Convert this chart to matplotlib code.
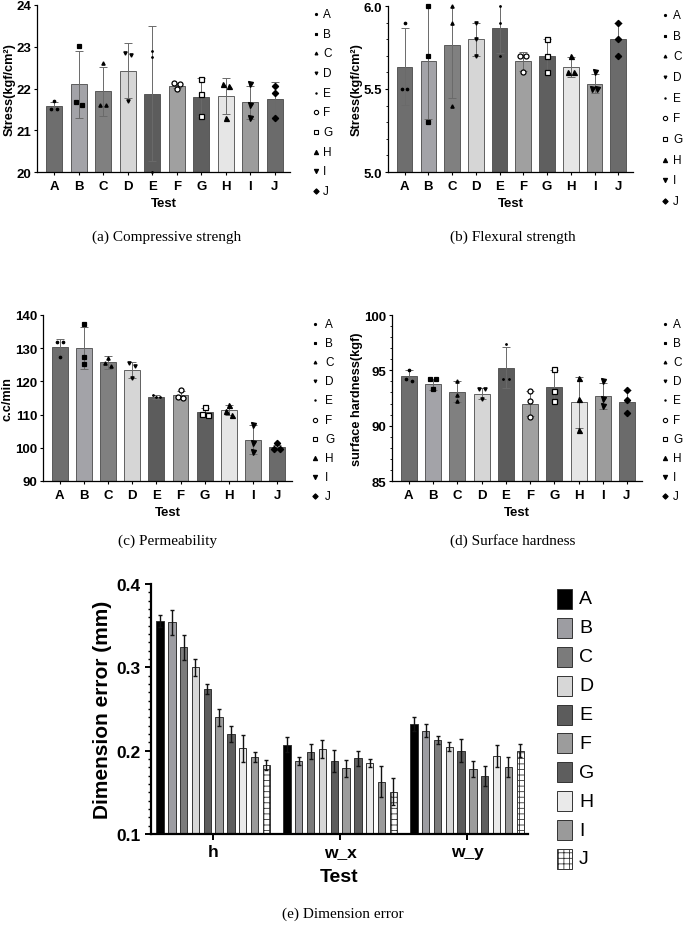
import matplotlib
matplotlib.use("Agg")
import matplotlib.pyplot as plt
import numpy as np
from matplotlib.ticker import MultipleLocator, FormatStrFormatter
from matplotlib.lines import Line2D
from matplotlib.patches import Rectangle

plt.rcParams['font.family'] = ['Liberation Sans', 'DejaVu Sans']
plt.rcParams['hatch.color'] = '#444444'
plt.rcParams['hatch.linewidth'] = 0.6

# ---------------- data ----------------
tests = ['A', 'B', 'C', 'D', 'E', 'F', 'G', 'H', 'I', 'J']

comp_mean = [21.57, 22.10, 21.93, 22.43, 21.88, 22.07, 21.80, 21.82, 21.67, 21.75]
comp_err = [0.10, 0.80, 0.58, 0.66, 1.62, 0.06, 0.45, 0.43, 0.40, 0.40]
comp_pts = [[21.70, 21.50, 21.50], [23.02, 21.68, 21.60], [22.60, 21.60, 21.60],
            [22.85, 22.80, 21.70], [22.90, 22.75, 20.00], [22.13, 22.10, 21.98],
            [22.22, 21.88, 21.33], [22.10, 22.05, 21.30], [22.10, 21.60, 21.30],
            [22.05, 21.90, 21.30]]

flex_mean = [5.635, 5.667, 5.767, 5.80, 5.867, 5.667, 5.70, 5.633, 5.533, 5.80]
flex_err = [0.23, 0.35, 0.32, 0.10, 0.15, 0.058, 0.10, 0.058, 0.058, 0.10]
flex_pts = [[5.9, 5.5, 5.5], [6.0, 5.7, 5.3], [6.0, 5.9, 5.4], [5.9, 5.8, 5.7],
            [6.0, 5.9, 5.7], [5.7, 5.7, 5.6], [5.8, 5.7, 5.6], [5.7, 5.6, 5.6],
            [5.6, 5.5, 5.5], [5.9, 5.8, 5.7]]

perm_mean = [130.3, 130.1, 125.7, 123.4, 115.4, 115.8, 110.8, 111.4, 102.4, 100.1]
perm_err = [2.4, 6.3, 2.1, 2.3, 0.6, 1.2, 1.2, 1.5, 4.4, 0.7]
perm_pts = [[132.0, 132.0, 127.5], [137.3, 127.5, 125.3], [127.0, 125.5, 124.5],
            [125.5, 124.5, 121.0], [115.8, 115.3, 115.2], [117.3, 115.2, 115.0],
            [112.3, 110.2, 110.0], [113.0, 111.2, 110.0], [107.0, 101.5, 98.8],
            [101.3, 99.5, 99.5]]

hard_mean = [94.5, 93.75, 93.05, 92.9, 95.25, 92.0, 93.5, 92.1, 92.7, 92.15]
hard_err = [0.5, 0.5, 0.95, 0.5, 1.85, 1.1, 1.5, 2.3, 1.15, 1.05]
hard_pts = [[95.0, 94.2, 94.0], [94.2, 94.2, 93.3], [94.0, 92.8, 92.2],
            [93.3, 93.3, 92.4], [97.4, 94.2, 94.2], [93.1, 92.2, 90.8],
            [95.1, 93.1, 92.2], [94.3, 92.4, 89.6], [94.0, 92.4, 91.8],
            [93.2, 92.3, 91.1]]

dim_groups = ['h', 'w_x', 'w_y']
dim_h = [0.356, 0.354, 0.324, 0.300, 0.274, 0.240, 0.220, 0.203, 0.193, 0.183]
dim_h_err = [0.007, 0.015, 0.015, 0.010, 0.006, 0.010, 0.010, 0.016, 0.006, 0.006]
dim_wx = [0.207, 0.188, 0.199, 0.202, 0.188, 0.179, 0.191, 0.185, 0.163, 0.151]
dim_wx_err = [0.009, 0.005, 0.009, 0.011, 0.013, 0.010, 0.009, 0.005, 0.019, 0.016]
dim_wy = [0.232, 0.224, 0.213, 0.205, 0.200, 0.178, 0.170, 0.194, 0.181, 0.200]
dim_wy_err = [0.008, 0.008, 0.005, 0.005, 0.014, 0.010, 0.012, 0.013, 0.012, 0.008]

# ---------------- styles ----------------
bar_cols = ['#6e6e6e', '#a3a3a8', '#808080', '#d6d6d6', '#5c5c5c',
            '#a0a0a0', '#5f5f5f', '#e6e6e6', '#9c9c9c', '#6b6b6b']
dim_cols = ['#000000', '#9d9da2', '#7b7b7b', '#d7d7d7', '#5c5c5c',
            '#9c9c9c', '#5e5e5e', '#eaeaea', '#9a9a9a', '#ffffff']
markers = ['.', 's', '^', 'v', '.', 'o', 's', '^', 'v', 'D']
msizes = [3.5, 2.2, 2.4, 2.4, 2.2, 3.6, 3.6, 3.6, 3.6, 3.2]
mfill = [True, True, True, True, True, False, False, True, True, True]

W, H = 685, 929
fig = plt.figure(figsize=(W / 100, H / 100), dpi=100)


def px_ax(l, t, r, b):
    return fig.add_axes([l / W, 1 - b / H, (r - l) / W, (b - t) / H])


def fx(x):
    return x / W


def fy(y):
    return 1 - y / H


def offsets(vals, span):
    vals = np.asarray(vals)
    off = np.zeros(len(vals))
    thr = span * 0.025
    used = [False] * len(vals)
    for i in range(len(vals)):
        if used[i]:
            continue
        grp = [j for j in range(len(vals)) if not used[j] and abs(vals[j] - vals[i]) < thr]
        for j in grp:
            used[j] = True
        n = len(grp)
        if n == 2:
            for k, j in zip([-0.12, 0.12], grp):
                off[j] = k
        elif n == 3:
            for k, j in zip([-0.16, 0.0, 0.16], grp):
                off[j] = k
    return off


def small_panel(ax, means, errs, pts, ylim, major, minor, fmt, ylabel):
    x = np.arange(len(tests))
    ax.bar(x, means, width=0.66, color=bar_cols, edgecolor='#4a4a4a', linewidth=0.6, zorder=2)
    ax.errorbar(x, means, yerr=errs, fmt='none', ecolor='#6a6a6a', elinewidth=0.7,
                capsize=3, capthick=0.7, zorder=3)
    span = ylim[1] - ylim[0]
    for i, p in enumerate(pts):
        off = offsets(p, span)
        ax.plot(x[i] + off, p, linestyle='none', marker=markers[i], ms=msizes[i],
                mfc='black' if mfill[i] else 'white', mec='black', mew=0.9,
                zorder=4, clip_on=False)
    ax.set_xlim(-0.7, 9.62)
    ax.set_ylim(*ylim)
    ax.yaxis.set_major_locator(MultipleLocator(major))
    if minor:
        ax.yaxis.set_minor_locator(MultipleLocator(minor))
    ax.yaxis.set_major_formatter(FormatStrFormatter(fmt))
    ax.set_xticks(x)
    ax.set_xticklabels(tests)
    for s in ['top', 'right']:
        ax.spines[s].set_visible(False)
    for s in ['left', 'bottom']:
        ax.spines[s].set_linewidth(0.9)
    ax.tick_params(axis='both', which='major', length=2.5, width=0.8, labelsize=9.5, pad=1.5)
    ax.tick_params(axis='x', which='major', pad=3)
    ax.tick_params(axis='y', which='minor', length=1.6, width=0.6)
    for lab in ax.get_xticklabels() + ax.get_yticklabels():
        lab.set_fontweight('bold')
    ax.set_xlabel('Test', fontsize=9.5, fontweight='bold', labelpad=4)
    ax.set_ylabel(ylabel, fontsize=9.2, fontweight='bold', labelpad=1)


def marker_legend(xm, xt, y0, y1):
    ys = np.linspace(y0, y1, len(tests))
    for i, t in enumerate(tests):
        ln = Line2D([fx(xm)], [fy(ys[i])], transform=fig.transFigure, linestyle='none',
                    marker=markers[i], ms=msizes[i] * 0.85,
                    mfc='black' if mfill[i] else 'white', mec='black', mew=0.8)
        fig.add_artist(ln)
        fig.text(fx(xt), fy(ys[i]), t, fontsize=8.5, va='center', ha='left')


ax_a = px_ax(37, 6, 290, 173)
small_panel(ax_a, comp_mean, comp_err, comp_pts, (20, 24), 1, None, '%d', 'Stress(kgf/cm²)')
marker_legend(316, 323, 15, 192)

ax_b = px_ax(388, 7, 633, 173)
small_panel(ax_b, flex_mean, flex_err, flex_pts, (5.0, 6.0), 0.5, 0.1, '%.1f', 'Stress(kgf/cm²)')
marker_legend(665, 673, 16, 202)

ax_c = px_ax(43, 316, 292, 482)
small_panel(ax_c, perm_mean, perm_err, perm_pts, (90, 140), 10, None, '%d', 'c.c/min')
marker_legend(315, 325, 325, 497)

ax_d = px_ax(392, 316, 642, 482)
small_panel(ax_d, hard_mean, hard_err, hard_pts, (85, 100), 5, 1, '%d', 'surface hardness(kgf)')
marker_legend(665, 673, 325, 497)

# ---------------- panel e ----------------
ax_e = px_ax(151, 585, 528, 835)
gx = np.arange(len(dim_groups))
pitch = 1 / 10.75
bw = 0.058
series = list(zip(dim_h, dim_wx, dim_wy))
series_err = list(zip(dim_h_err, dim_wx_err, dim_wy_err))
for i, t in enumerate(tests):
    xs = gx + (i - 4.5) * pitch
    hatch = '+++' if i == 9 else None
    ax_e.bar(xs, series[i], width=bw, bottom=0, color=dim_cols[i], edgecolor='#333333',
             linewidth=0.7, hatch=hatch, zorder=2)
    ax_e.errorbar(xs, series[i], yerr=series_err[i], fmt='none', ecolor='#111111',
                  elinewidth=1.0, capsize=1.6, capthick=1.0, zorder=3)
ax_e.set_xlim(-0.49, 2.48)
ax_e.set_ylim(0.1, 0.4)
ax_e.yaxis.set_major_locator(MultipleLocator(0.1))
ax_e.yaxis.set_minor_locator(MultipleLocator(0.01))
ax_e.yaxis.set_major_formatter(FormatStrFormatter('%.1f'))
ax_e.set_xticks(gx)
ax_e.set_xticklabels(dim_groups)
for s in ['top', 'right']:
    ax_e.spines[s].set_visible(False)
for s in ['left', 'bottom']:
    ax_e.spines[s].set_linewidth(1.6)
ax_e.tick_params(axis='both', which='major', length=4.5, width=1.4, labelsize=12.5, pad=3)
ax_e.tick_params(axis='y', which='minor', length=2.5, width=1.0)
for lab in ax_e.get_xticklabels() + ax_e.get_yticklabels():
    lab.set_fontweight('bold')
ax_e.set_xlabel('Test', fontsize=14, fontweight='bold', labelpad=6)
ax_e.set_ylabel('Dimension error (mm)', fontsize=15, fontweight='bold', labelpad=3)

# legend for panel e
ly = np.linspace(600, 860, len(tests))
for i, t in enumerate(tests):
    r = Rectangle((fx(557), fy(ly[i] + 10)), 15 / W, 20 / H, transform=fig.transFigure,
                  facecolor=dim_cols[i], edgecolor='#333333', linewidth=0.7,
                  hatch='+++' if i == 9 else None)
    fig.add_artist(r)
    fig.text(fx(579), fy(ly[i]), t, fontsize=14, va='center', ha='left')

# captions
cap_font = dict(family=['Liberation Serif', 'DejaVu Serif'], fontsize=11, ha='center', va='center')
fig.text(fx(167), fy(237), '(a) Compressive strengh', **cap_font)
fig.text(fx(513), fy(237), '(b) Flexural strength', **cap_font)
fig.text(fx(167), fy(541), '(c) Permeability', **cap_font)
fig.text(fx(513), fy(541), '(d) Surface hardness', **cap_font)
fig.text(fx(343), fy(914), '(e) Dimension error', **cap_font)

fig.savefig('out.png', dpi=100)
